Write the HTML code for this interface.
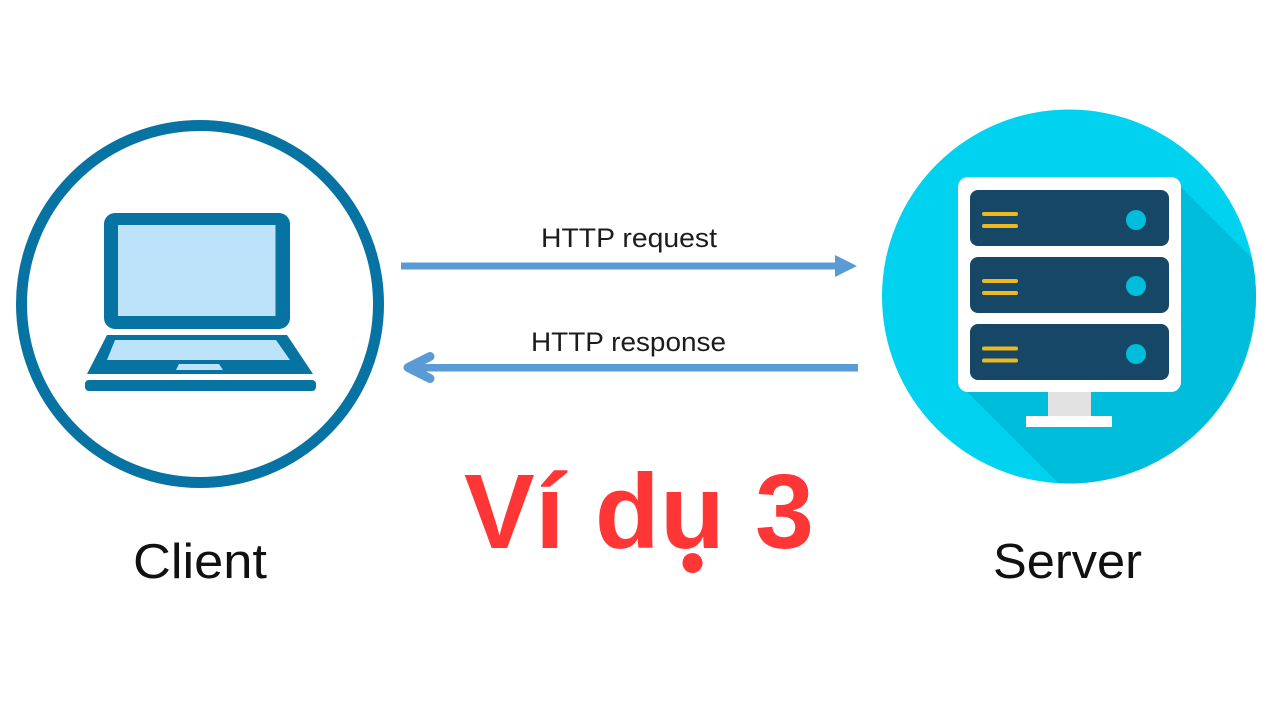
<!DOCTYPE html>
<html lang="vi">
<head>
<meta charset="utf-8">
<title>Ví dụ 3</title>
<style>
html,body{margin:0;padding:0;background:#fff;width:1280px;height:720px;overflow:hidden}
svg{display:block}
text{font-family:"Liberation Sans",sans-serif}
</style>
</head>
<body>
<svg width="1280" height="720" viewBox="0 0 1280 720" xmlns="http://www.w3.org/2000/svg">
<defs>
<clipPath id="c"><circle cx="1069" cy="296.5" r="187"/></clipPath>
</defs>
<rect width="1280" height="720" fill="#fff"/>

<!-- Client -->
<circle cx="200" cy="304" r="178.5" fill="none" stroke="#0773a3" stroke-width="11"/>
<rect x="104" y="213" width="186" height="116" rx="11" fill="#0773a3"/>
<rect x="118" y="225" width="157.500" height="91" fill="#bde3fa"/>
<polygon points="107,335 287,335 313,374 87,374" fill="#0773a3"/>
<polygon points="115,340 276,340 290,360 107,360" fill="#bde3fa"/>
<polygon points="179,364 219,364 223,370 176,370" fill="#bde3fa"/>
<rect x="85" y="380" width="231" height="11" rx="4" fill="#0773a3"/>
<text x="133" y="578" font-size="49" fill="#111" textLength="134" lengthAdjust="spacingAndGlyphs">Client</text>

<!-- Server -->
<circle cx="1069" cy="296.500" r="187" fill="#00d2ef"/>
<g clip-path="url(#c)">
<polygon points="1181,187 1290,296 1290,520 1095,520 967,392" fill="#00bedb"/>
</g>
<rect x="1048" y="390" width="43" height="27" fill="#e2e2e2"/>
<rect x="1026" y="416" width="86" height="11" fill="#fff"/>
<rect x="958" y="177" width="223" height="215" rx="10" fill="#fff"/>
<rect x="970" y="190" width="199" height="56" rx="8" fill="#164766"/>
<rect x="970" y="257" width="199" height="56" rx="8" fill="#164766"/>
<rect x="970" y="324" width="199" height="56" rx="8" fill="#164766"/>
<circle cx="1136" cy="220" r="10" fill="#00bedb"/>
<circle cx="1136" cy="286" r="10" fill="#00bedb"/>
<circle cx="1136" cy="354" r="10" fill="#00bedb"/>
<g fill="#f0b81e">
<rect x="982" y="212" width="36" height="4" rx="2"/>
<rect x="982" y="224" width="36" height="4" rx="2"/>
<rect x="982" y="279" width="36" height="4" rx="2"/>
<rect x="982" y="291" width="36" height="4" rx="2"/>
<rect x="982" y="346.500" width="36" height="4" rx="2"/>
<rect x="982" y="358.500" width="36" height="4" rx="2"/>
</g>
<text x="993" y="578" font-size="49" fill="#111" textLength="149" lengthAdjust="spacingAndGlyphs">Server</text>

<!-- Arrows -->
<rect x="401" y="262.500" width="440" height="7" fill="#5b9bd5"/>
<polygon points="835,255 857,266 835,277" fill="#5b9bd5"/>
<rect x="410" y="364" width="448" height="7.500" fill="#5b9bd5"/>
<polyline points="430,356.500 408,367.500 430,378.500" fill="none" stroke="#5b9bd5" stroke-width="9" stroke-linecap="round" stroke-linejoin="round"/>

<text x="541" y="247" font-size="27" fill="#1c1c1c" textLength="176" lengthAdjust="spacingAndGlyphs">HTTP request</text>
<text x="531" y="351" font-size="27" fill="#1c1c1c" textLength="195" lengthAdjust="spacingAndGlyphs">HTTP response</text>

<!-- Title -->
<text x="464" y="548" font-size="106" font-weight="700" fill="#ff3636" textLength="350" lengthAdjust="spacing">Ví dụ 3</text>
<circle cx="692.500" cy="563" r="10" fill="#ff3636"/>
</svg>
</body>
</html>
